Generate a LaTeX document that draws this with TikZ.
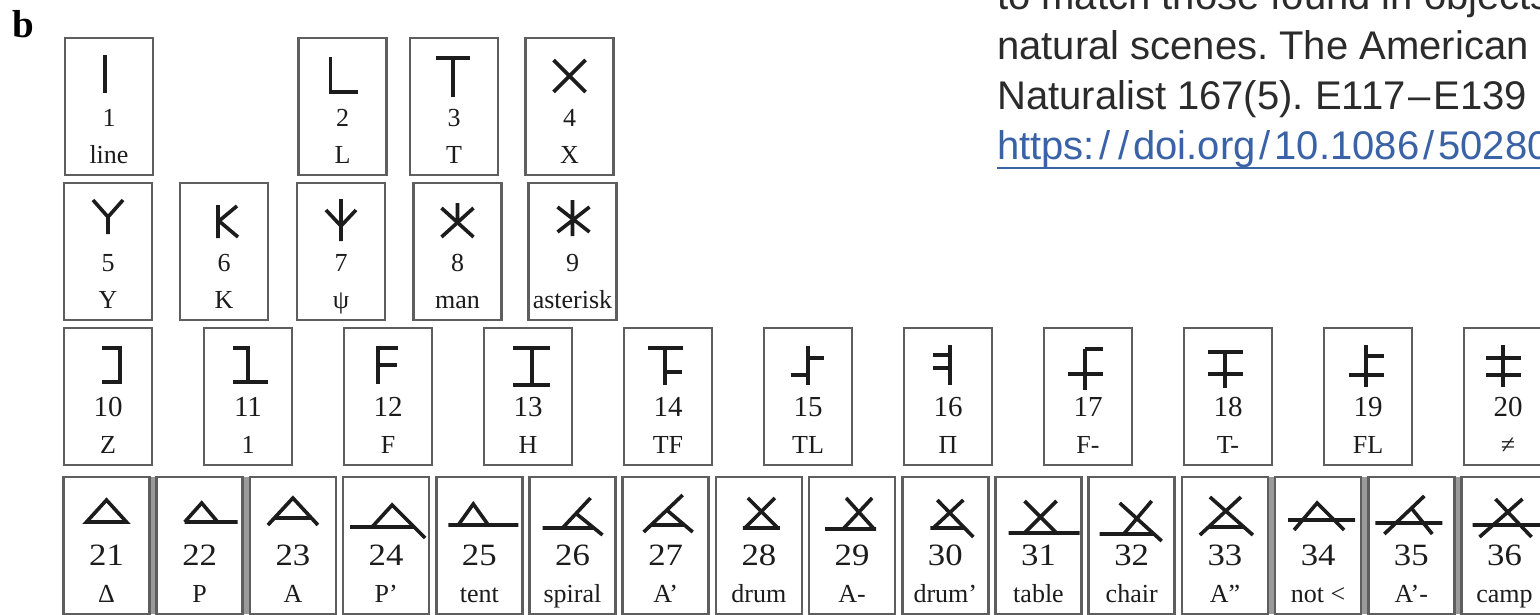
\documentclass[tikz,border=0pt]{standalone}
\usepackage{fontspec}
\setmainfont{Liberation Serif}
\newfontfamily\citefont{Liberation Sans}
\usetikzlibrary{positioning}
\frenchspacing
\definecolor{inkgray}{HTML}{1C1C1C}
\definecolor{framegray}{HTML}{5E5E5E}
\definecolor{gapgray}{HTML}{9A9A9A}
\definecolor{citeblack}{HTML}{2B2B2B}
\definecolor{doiblue}{HTML}{3A62A6}
\newcommand{\wslash}{\kern4pt/\kern4pt}

% one symbol cell: centre x, top y, number, name, strokes
\newcommand{\glyphcell}[5]{%
  \begin{scope}[shift={(#1,#2)}]
    \node[frame] (box#3) at (0,68.5) {};
    \node[numlab] (num#3) at (0,88) {#3};
    \node[namelab] (name#3) at (0,125) {#4};
    \draw[glyph] #5;
  \end{scope}}

\begin{document}
\begin{tikzpicture}[x=1pt, y=-1pt,
    frame/.style={draw=framegray, line width=2.6pt, minimum width=88pt, minimum height=137pt, inner sep=0pt, outer sep=0pt},
    glyph/.style={draw=inkgray, line width=3.6pt},
    numlab/.style={anchor=base, inner sep=0pt, text=inkgray, font=\fontsize{26}{26}\selectfont},
    namelab/.style={anchor=base, inner sep=0pt, text=inkgray, font=\fontsize{26}{26}\selectfont},
    citetext/.style={anchor=base west, inner sep=0pt, text=citeblack, font=\citefont\fontsize{40}{40}\selectfont}]
    \useasboundingbox (0,0) rectangle (1540,614);
    \clip (0,0) rectangle (1540,614);
    \fill[white] (0,0) rectangle (1540,614);

    % Panel letter
    \node[anchor=base west, inner sep=0pt, font=\bfseries\fontsize{39}{39}\selectfont] (panel) at (12,37) {b};

    % Citation text (cut by the page edge)
    \node[citetext] (cite1) at (997,9) {to match those found in objects};
    \node[citetext] (cite2) at (997,59) {natural scenes. The American};
    \node[citetext] (cite3) at (997,109) {Naturalist 167(5). E117\kern3pt–\kern3pt E139};
    \node[citetext, text=doiblue] (cite4) at (997,159) {https:\wslash\wslash doi.org\wslash 10.1086\wslash 502806};
    \draw[doiblue, line width=2pt] (cite4.base west) ++(0,9) coordinate (ulA) -- ++(600,0) coordinate (ulB);

    % Row 1
    \glyphcell{109}{38}{1}{line}{(-4,17) -- (-4,55)}
    \glyphcell{342.5}{38}{2}{L}{(-12,19) -- (-12,54) -- (15,54)}
    \glyphcell{454}{38}{3}{T}{(-18,20) -- (16,20) (-1,20) -- (-1,59)}
    \glyphcell{569.5}{38}{4}{X}{(-16,22) -- (16,54) (16,22) -- (-16,54)}

    % Row 2
    \glyphcell{108}{183}{5}{Y}{(-15,17) -- (0,34) -- (15,17) (0,34) -- (0,51)}
    \glyphcell{224}{183}{6}{K}{(-6,22) -- (-6,55) (13,23) -- (-5,38) -- (14,54)}
    \glyphcell{341}{183}{7}{ψ}{(0,16) -- (0,58) (-15,27) -- (0,43) -- (15,27)}
    \glyphcell{457.5}{183}{8}{man}{(-16,25) -- (16,54) (16,25) -- (-16,54) (0,20) -- (0,39)}
    \glyphcell{572.5}{183}{9}{asterisk}{(-15,24) -- (17,49) (17,24) -- (-15,49) (0,17) -- (0,53)}

    % Row 3
    \begin{scope}[numlab/.append style={font=\fontsize{29}{29}\selectfont}]
    \glyphcell{108}{328}{10}{Z}{(-6,20) -- (12,20) -- (12,54) -- (-6,54)}
    \glyphcell{248}{328}{11}{1}{(-15,20) -- (0,20) -- (0,54) (-15,54) -- (20,54)}
    \glyphcell{388}{328}{12}{F}{(10,20) -- (-10,20) -- (-10,56) (-10,37) -- (9,37)}
    \glyphcell{528}{328}{13}{H}{(-15,20) -- (22,20) (-15,57) -- (22,57) (4,20) -- (4,57)}
    \glyphcell{668}{328}{14}{TF}{(-20,20) -- (15,20) (-3,20) -- (-3,57) (-3,44) -- (14,44)}
    \glyphcell{808}{328}{15}{TL}{(0,18) -- (0,57) (0,30) -- (16,30) (-17,47) -- (0,47)}
    \glyphcell{948}{328}{16}{Π}{(2,17) -- (2,57) (-15,27) -- (2,27) (-15,40) -- (2,40)}
    \glyphcell{1088}{328}{17}{F-}{(-3,21) -- (-3,62) (-3,21) -- (15,21) (-20,46) -- (15,46)}
    \glyphcell{1228}{328}{18}{T-}{(-20,24) -- (15,24) (-20,46) -- (15,46) (-3,24) -- (-3,60)}
    \glyphcell{1368}{328}{19}{FL}{(-2,17) -- (-2,59) (-2,28) -- (16,28) (-19,47) -- (16,47)}
    \glyphcell{1508}{328}{20}{≠}{(-5,17) -- (-5,59) (-22,30) -- (13,30) (-22,47) -- (13,47)}
    \end{scope}

    % Row 4: grey filled seams between some cells
    \foreach \k in {0,1,12,13,14} {
        \fill[gapgray] ({106.5+93.2*\k+43},477) rectangle ({106.5+93.2*(\k+1)-43},614);
    }
    \begin{scope}[frame/.append style={minimum width=86pt},
                  numlab/.append style={font=\fontsize{31}{31}\selectfont, xscale=1.12}]
    \glyphcell{106.5}{477}{21}{Δ}{(-20,45) -- (0,23) -- (20,45) -- cycle}
    \glyphcell{199.7}{477}{22}{P}{(-15,45) -- (2,26) -- (18,45) (-15,45) -- (38,45)}
    \glyphcell{292.9}{477}{23}{A}{(-25,48) -- (0,21) -- (25,48) (-18,41) -- (18,41)}
    \glyphcell{386.1}{477}{24}{P'}{(-36,50) -- (28,50) (-14,50) -- (6,28) -- (39,61)}
    \glyphcell{479.3}{477}{25}{tent}{(-31,48) -- (39,48) (-21,48) -- (-6,27) -- (9,48)}
    \glyphcell{572.5}{477}{26}{spiral}{(-30,51) -- (21,51) (-10,51) -- (18,21) (3,36) -- (30,58)}
    \glyphcell{665.7}{477}{27}{A'}{(-22,55) -- (17,18) (1,33) -- (27,55) (-15,48) -- (19,48)}
    \glyphcell{758.9}{477}{28}{drum}{(-11,21) -- (19,51) (16,21) -- (-14,51) (-16,51) -- (21,51)}
    \glyphcell{852.1}{477}{29}{A-}{(-6,21) -- (22,52) (20,21) -- (-9,52) (-27,52) -- (24,52)}
    \glyphcell{945.3}{477}{30}{drum'}{(-8,23) -- (28,60) (18,23) -- (-12,51) (-15,51) -- (20,51)}
    \glyphcell{1038.5}{477}{31}{table}{(-14,24) -- (18,56) (18,24) -- (-14,56) (-30,56) -- (41,56)}
    \glyphcell{1131.7}{477}{32}{chair}{(-12,26) -- (30,64) (20,24) -- (-8,57) (-32,57) -- (22,57)}
    \glyphcell{1224.9}{477}{33}{A''}{(-15,20) -- (28,58) (16,20) -- (-25,58) (-16,50) -- (19,50)}
    \glyphcell{1318.1}{477}{34}{not <}{(-24,53) -- (-1,26) -- (26,53) (-30,43) -- (37,43)}
    \glyphcell{1411.3}{477}{35}{A'-}{(-36,46) -- (31,46) (-27,57) -- (13,19) (0,31) -- (21,57)}
    \glyphcell{1504.5}{477}{36}{camp}{(-9,22) -- (27,60) (18,22) -- (-25,60) (-32,48) -- (40,48)}
    \end{scope}
\end{tikzpicture}
\end{document}
